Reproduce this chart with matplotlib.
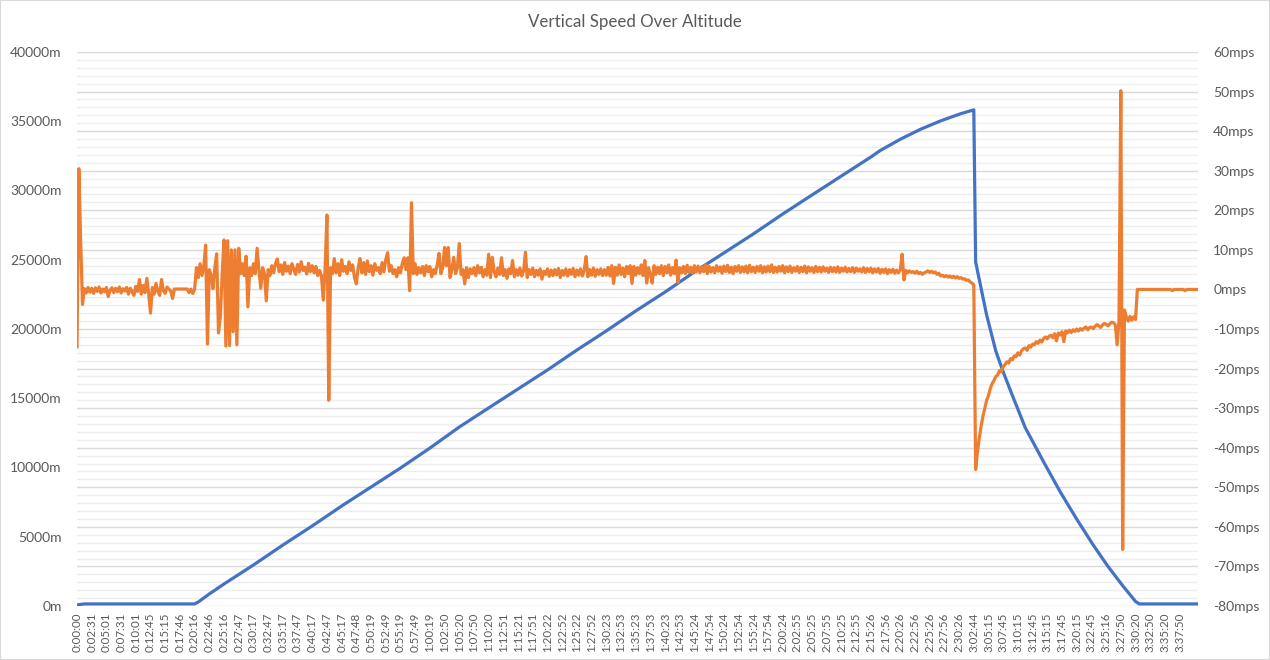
import numpy as np
import matplotlib
matplotlib.use('Agg')
import matplotlib.pyplot as plt
from matplotlib.patches import Rectangle

plt.rcParams['font.family'] = ['Lato', 'DejaVu Sans']

# category labels (one every 8 logged samples)
time_labels = [
    '0:00:00', '0:02:31', '0:05:01', '0:07:31', '0:10:01', '0:12:45', '0:15:15', '0:17:46',
    '0:20:16', '0:22:46', '0:25:16', '0:27:47', '0:30:17', '0:32:47', '0:35:17', '0:37:47',
    '0:40:17', '0:42:47', '0:45:17', '0:47:48', '0:50:19', '0:52:49', '0:55:19', '0:57:49',
    '1:00:19', '1:02:50', '1:05:20', '1:07:50', '1:10:20', '1:12:51', '1:15:21', '1:17:51',
    '1:20:22', '1:22:52', '1:25:22', '1:27:52', '1:30:23', '1:32:53', '1:35:23', '1:37:53',
    '1:40:23', '1:42:53', '1:45:24', '1:47:54', '1:50:24', '1:52:54', '1:55:24', '1:57:54',
    '2:00:24', '2:02:55', '2:05:25', '2:07:55', '2:10:25', '2:12:55', '2:15:26', '2:17:56',
    '2:20:26', '2:22:56', '2:25:26', '2:27:56', '2:30:26',
    '3:02:44', '3:05:15', '3:07:45', '3:10:15', '3:12:45', '3:15:15', '3:17:45', '3:20:15',
    '3:22:45', '3:25:16', '3:27:50', '3:30:20', '3:32:50', '3:35:20', '3:37:50',
]
samples_per_label = 8

# vertical speed (mps), one value per logged sample
vspeed = [
    -14.5, 30.5, 12.0, -3.8, 0.2, -0.9, 0.5, -0.7, 0.3, -1.0,
    0.4, -0.5, 0.6, -0.9, 0.1, -0.6, 0.5, -1.8, -0.2, 0.4,
    -0.8, 0.3, -0.6, 0.6, -0.9, 0.2, -0.4, 0.5, -1.2, 0.3,
    -0.6, -1.5, 0.8, -0.5, 2.5, -1.2, 1.0, -0.8, 2.8, -1.0,
    -6.0, 0.5, -1.2, 1.5, -0.5, -1.5, 2.5, -0.3, -1.0, 0.6,
    0.1, -0.4, -2.3, 0.1, 0.1, 0.1, 0.1, 0.1, 0.1, 0.1,
    0.1, -0.8, 0.1, -1.0, 0.0, 5.5, 3.0, 6.5, 3.5, 5.8,
    11.2, -13.8, 5.0, 3.5, 0.2, 5.5, 9.0, -11.0, -6.9, 4.0,
    12.5, -14.3, 12.3, -14.2, 10.0, -10.7, 10.0, -14.0, 10.4, 4.0,
    6.5, 3.5, 8.4, -4.4, 5.5, 3.5, 6.5, 4.0, 10.4, 5.0,
    0.3, 5.5, 4.0, -2.9, 5.0, 3.5, 6.0, 4.2, 6.5, 7.7,
    4.5, 6.2, 3.8, 6.8, 4.6, 5.9, 4.0, 6.5, 5.0, 3.8,
    6.3, 4.4, 7.0, 4.8, 5.6, 3.9, 6.6, 4.5, 6.0, 4.2,
    5.8, 3.5, 4.8, 3.5, -2.7, 5.0, 18.8, -28.0, 5.5, 4.0,
    7.8, 4.2, 6.5, 3.5, 7.5, 4.6, 5.8, 4.0, 7.0, 4.8,
    6.2, 3.0, 1.4, 5.5, 7.8, 4.2, 6.8, 3.8, 7.2, 4.5,
    6.0, 3.6, 6.5, 4.8, 5.5, 4.0, 6.8, 4.4, 7.5, 9.3,
    4.6, 6.0, 4.0, 5.0, 3.2, 5.5, 4.2, 6.5, 8.0, 5.0,
    8.0, -0.3, 21.9, 4.0, 6.5, 3.8, 5.5, 4.2, 5.8, 3.5,
    6.0, 4.5, 5.8, 3.2, 5.0, 4.0, 6.2, 9.1, 4.0, 5.5,
    10.6, 6.0, 10.6, 3.0, 5.0, 8.1, 4.0, 5.5, 11.6, 3.8,
    5.0, 1.4, 5.5, 3.0, 5.2, 4.0, 5.5, 3.5, 6.0, 4.2,
    5.6, 3.2, 5.0, 3.6, 8.9, 3.0, 8.1, 4.5, 3.2, 5.4,
    3.8, 8.0, 3.5, 5.0, 2.8, 5.2, 4.0, 7.3, 3.2, 5.0,
    3.6, 5.4, 3.4, 4.6, 9.4, 3.0, 5.0, 3.8, 5.4, 3.2,
    4.8, 3.6, 5.2, 2.6, 4.6, 3.8, 5.2, 3.3, 4.9, 3.5,
    5.0, 3.7, 5.3, 3.0, 4.8, 3.6, 5.2, 3.4, 5.0, 3.8,
    5.3, 3.2, 4.9, 3.6, 5.2, 3.4, 4.8, 8.3, 3.2, 5.0,
    3.6, 5.4, 3.3, 5.0, 3.8, 5.2, 3.5, 5.0, 3.6, 5.6,
    3.4, 6.0, 1.5, 5.6, 3.6, 6.2, 3.8, 5.4, 3.2, 5.8,
    4.0, 6.0, 1.5, 5.8, 3.6, 5.5, 4.0, 6.2, 3.5, 7.3,
    1.6, 5.5, 3.8, 1.6, 6.0, 3.8, 5.6, 4.0, 6.0, 3.5,
    5.8, 4.2, 6.2, 3.6, 5.5, 4.0, 7.4, 1.8, 5.5, 4.2,
    5.8, 4.0, 6.1, 4.3, 5.6, 4.1, 6.0, 4.4, 5.9, 4.2,
    5.7, 4.5, 6.2, 4.0, 5.8, 4.4, 5.5, 4.2, 6.0, 4.6,
    5.7, 4.1, 5.9, 4.5, 6.1, 4.3, 5.6, 4.0, 5.8, 4.6,
    6.0, 4.3, 5.7, 4.4, 5.9, 4.2, 6.1, 4.5, 5.6, 4.3,
    5.8, 4.6, 6.0, 4.2, 5.7, 4.4, 5.9, 4.5, 6.2, 4.3,
    5.6, 4.4, 5.8, 4.6, 6.0, 4.2, 5.7, 4.5, 5.9, 4.3,
    5.5, 4.6, 5.8, 4.3, 5.6, 4.5, 5.9, 4.2, 5.7, 4.6,
    5.5, 4.3, 5.8, 4.5, 5.6, 4.4, 5.7, 4.6, 5.4, 4.3,
    5.6, 4.5, 5.5, 4.4, 5.7, 4.3, 5.4, 4.6, 5.6, 4.4,
    5.3, 4.5, 5.5, 4.3, 5.4, 4.6, 5.2, 4.4, 5.5, 4.3,
    5.3, 4.5, 5.4, 4.2, 5.2, 4.4, 5.3, 4.1, 5.1, 4.3,
    5.2, 4.0, 5.0, 4.3, 5.1, 4.1, 4.9, 4.2, 5.0, 8.9,
    2.4, 4.8, 4.2, 4.7, 4.3, 4.5, 4.1, 4.6, 4.0, 4.3,
    3.8, 4.2, 4.4, 4.7, 4.3, 4.6, 4.2, 4.4, 3.8, 4.1,
    3.4, 3.6, 3.2, 3.5, 3.1, 3.4, 3.0, 3.3, 2.9, 3.2,
    2.8, 3.0, 2.6, 2.7, 2.3, 2.4, 1.9, 1.6, 1.1, -45.5,
    -41.0, -37.5, -34.5, -32.0, -30.0, -28.0, -26.8, -25.0, -23.8, -23.0,
    -22.0, -21.6, -20.5, -20.8, -19.5, -19.0, -18.3, -18.6, -17.5, -17.8,
    -16.8, -17.0, -16.0, -16.6, -15.5, -15.0, -14.8, -15.4, -14.2, -14.6,
    -13.8, -14.0, -13.2, -13.6, -12.8, -13.3, -12.4, -12.0, -12.5, -11.8,
    -11.6, -12.2, -11.2, -13.0, -11.0, -11.5, -10.7, -13.2, -10.5, -11.0,
    -10.3, -10.9, -10.2, -10.6, -10.0, -10.5, -9.9, -10.3, -9.8, -9.5,
    -10.2, -9.6, -9.5, -9.9, -9.3, -8.9, -9.2, -9.6, -9.0, -8.6,
    -8.8, -9.2, -8.7, -8.3, -8.4, -8.9, -14.0, -8.0, 50.2, -65.7,
    -5.2, -7.0, -8.0, -6.8, -7.8, -6.9, -7.6, 0.0, 0.0, 0.0,
    0.0, 0.0, 0.0, 0.0, 0.0, 0.0, 0.0, 0.0, 0.0, 0.0,
    0.0, 0.0, 0.0, 0.0, 0.0, 0.0, -0.3, 0.0, 0.0, 0.0,
    0.0, 0.0, 0.0, -0.3, 0.0, 0.0, 0.0, 0.0, 0.0, 0.0,
    0.0,
]

# altitude (m), read at selected sample indices
alt_idx = [0, 4, 64, 66, 72, 80, 96, 112, 128, 144, 160, 176, 192, 208, 224, 240, 256, 272,
           288, 304, 320, 336, 352, 368, 384, 400, 416, 432, 437, 448, 459, 470, 481, 488,
           489, 495, 500, 504, 509, 516, 526, 535, 544, 553, 561, 569, 576, 578, 610]
alt_m = [80, 150, 150, 290, 870, 1590, 2960, 4400, 5780, 7220, 8590, 9960, 11400, 12920,
         14300, 15670, 17040, 18480, 19860, 21300, 22670, 24120, 25490, 26860, 28300,
         29680, 31050, 32420, 32880, 33700, 34420, 35030, 35550, 35820,
         24840, 21000, 18400, 16900, 15200, 12880, 10400, 8250, 6270, 4400, 2860, 1470,
         330, 150, 150]

alt_ticks = list(range(0, 40001, 5000))
vs_ticks = list(range(-80, 61, 10))

text_col = '#595959'
blue = '#4472C4'
orange = '#ED7D31'

fig = plt.figure(figsize=(12.7, 6.6), dpi=100)
pos = [77 / 1270, 1 - 606 / 660, (1198 - 77) / 1270, (606 - 52) / 660]
ax = fig.add_axes(pos)

n = len(vspeed)
x = np.arange(n)

# background axis: mps scale with the gridlines
ax.set_xlim(0, n - 1)
ax.set_ylim(-80, 60)
ax.set_yticks(vs_ticks)
ax.set_yticks(list(range(-80, 61, 2)), minor=True)
ax.set_yticklabels([f'{v}mps' for v in vs_ticks])
ax.grid(axis='y', which='major', color='#d9d9d9', linewidth=1.0)
ax.grid(axis='y', which='minor', color='#eeeeee', linewidth=1.0)
ax.set_axisbelow(True)
ax.set_xticks(np.arange(len(time_labels)) * samples_per_label)
ax.set_xticklabels(time_labels, rotation=90)
ax.tick_params(axis='x', length=0, labelsize=8.3, labelcolor=text_col, pad=5)
for s in ax.spines.values():
    s.set_visible(False)

# altitude (primary, left)
ax_alt = ax.twinx()
ax_alt.plot(alt_idx, alt_m, color=blue, linewidth=2.3, solid_joinstyle='round')
ax_alt.set_ylim(0, 40000)
ax_alt.set_yticks(alt_ticks)
ax_alt.set_yticklabels([f'{v}m' for v in alt_ticks])
for s in ax_alt.spines.values():
    s.set_visible(False)

# vertical speed drawn on top
ax_v = ax.twinx()
ax_v.plot(x, vspeed, color=orange, linewidth=2.3, solid_joinstyle='round')
ax_v.set_ylim(-80, 60)
ax_v.set_yticks([])
for s in ax_v.spines.values():
    s.set_visible(False)

# twinx moves ticks around, so set the sides at the end
ax.yaxis.tick_right()
ax_alt.yaxis.tick_left()
ax.tick_params(axis='y', which='both', length=0, labelsize=10, labelcolor=text_col, pad=11)
ax_alt.tick_params(axis='y', which='both', length=0, labelsize=10, labelcolor=text_col, pad=11)

fig.text(0.5, 1 - 22 / 660, 'Vertical Speed Over Altitude', ha='center', va='center',
         fontsize=12.2, color=text_col)

fig.patches.append(Rectangle((0, 0), 1, 1, transform=fig.transFigure, fill=False,
                             edgecolor='#d9d9d9', linewidth=1.5))

fig.savefig('out.png', dpi=100)
